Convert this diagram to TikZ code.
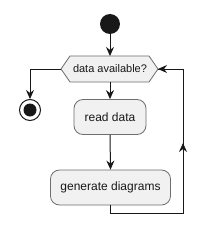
\documentclass[tikz,border=0pt]{standalone}
\usepackage{fontspec}
\setmainfont{Liberation Sans}
\usetikzlibrary{arrows.meta,shapes.misc,shapes.geometric}
\definecolor{boxfill}{HTML}{F1F1F1}
\definecolor{ink}{HTML}{181818}
\definecolor{boxline}{HTML}{6E6E6E}
\tikzset{
  act/.style={draw=boxline, fill=boxfill, rounded corners=9pt, line width=0.8pt,
    minimum height=35pt, inner xsep=10pt, font=\fontsize{12}{14}\selectfont, text=ink},
  flow/.style={draw=ink, line width=1pt, -{Stealth[length=9pt,width=8pt,inset=3pt]}},
  line/.style={draw=ink, line width=1pt},
}
\begin{document}
\begin{tikzpicture}[x=1pt,y=-1pt]
\useasboundingbox (0,0) rectangle (216,246);
\fill[white] (0,0) rectangle (216,246);
% start
\node[circle, fill=ink, minimum size=20pt, inner sep=0] (start) at (110,24) {};
% decision hexagon
\coordinate (hl) at (61,69);
\coordinate (hr) at (158,69);
\coordinate (ht) at (110,56);
\coordinate (hb) at (110,82);
\filldraw[fill=boxfill, draw=boxline, line width=0.8pt]
  (61,69) -- (70,56) -- (149,56) -- (158,69) -- (149,82) -- (70,82) -- cycle;
\node[font=\fontsize{11}{13}\selectfont, text=ink] (dec) at (110,69) {data available?};
% end
\node[circle, draw=ink, fill=white, line width=1pt, minimum size=21pt, inner sep=0] (stop) at (30,110) {};
\node[circle, fill=ink, minimum size=13pt, inner sep=0] at (stop) {};
% actions
\node[act, minimum width=72pt] (read) at (110,117) {read data};
\node[act, minimum width=119pt] (gen) at (110.5,187.5) {generate diagrams};
% connectors
\draw[flow] (start) -- (ht);
\draw[flow] (hl) -| (stop.north);
\draw[flow] (hb) -- (read.north);
\draw[flow] (read.south) -- (gen.north);
\coordinate (c1) at (110,213);
\coordinate (c2) at (183,213);
\coordinate (c3) at (183,69);
\draw[line] (gen.south) |- (c2) -- (c3) -- (hr);
\draw[flow] (c2) -- (183,143);
\draw[flow] (c3) -- (hr);
\end{tikzpicture}
\end{document}
